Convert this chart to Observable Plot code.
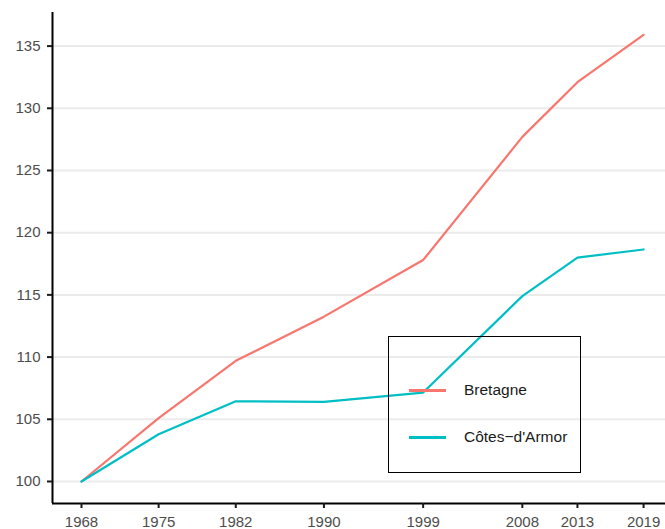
<!DOCTYPE html>
<html>
<head>
<meta charset="utf-8">
<script src="https://cdn.jsdelivr.net/npm/d3@7"></script>
<script src="https://cdn.jsdelivr.net/npm/@observablehq/plot@0.6"></script>
<style>
  html, body { margin: 0; padding: 0; background: #fff; }
  #wrap { position: relative; width: 665px; height: 529px; font-family: "Liberation Sans", Arial, sans-serif; }
  #legend { position: absolute; left: 388px; top: 336px; width: 191px; height: 135px; border: 1.5px solid #000; background: transparent; }
  .key { position: absolute; left: 20px; width: 37px; height: 2.5px; }
  .lab { position: absolute; left: 75px; font-size: 15.5px; line-height: 18px; color: #1a1a1a; white-space: nowrap; }
</style>
</head>
<body>
<div id="wrap"></div>
<script>
const years = [1968, 1975, 1982, 1990, 1999, 2008, 2013, 2019];
const seriesNames = ["Bretagne", "Côtes-d'Armor"];
const bretagne = [100, 105.1, 109.7, 113.25, 117.8, 127.7, 132.1, 135.9];
const cotesArmor = [100, 103.8, 106.45, 106.4, 107.15, 114.9, 118.0, 118.65];
const colors = ["#F8766D", "#00BFC4"];
const yTicks = [100, 105, 110, 115, 120, 125, 130, 135];

const data = [];
years.forEach((y, i) => {
  data.push({year: y, value: bretagne[i], serie: seriesNames[0]});
  data.push({year: y, value: cotesArmor[i], serie: seriesNames[1]});
});

const xDomain = [1965.37, 2020.99];
const yDomain = [98.23, 137.7];

const chart = Plot.plot({
  width: 665,
  height: 529,
  marginLeft: 52,
  marginRight: 0,
  marginTop: 12,
  marginBottom: 26,
  style: {fontFamily: "'Liberation Sans', Arial, sans-serif", background: "#fff"},
  x: {domain: xDomain},
  y: {domain: yDomain},
  color: {domain: seriesNames, range: colors},
  marks: [
    Plot.gridY(yTicks, {stroke: "#ebebeb", strokeOpacity: 1, strokeWidth: 2}),
    Plot.lineY(data, {x: "year", y: "value", stroke: "serie", strokeWidth: 2.2}),
    Plot.ruleX([xDomain[0]], {stroke: "#000", strokeWidth: 2}),
    Plot.ruleY([yDomain[0]], {stroke: "#000", strokeWidth: 2}),
    Plot.axisY(yTicks, {tickSize: 5, tickPadding: 7, fontSize: 15, stroke: "#1a1a1a", strokeWidth: 2, fill: "#4d4d4d", label: null}),
    Plot.axisX(years, {tickSize: 5, tickPadding: 8, fontSize: 15, stroke: "#1a1a1a", strokeWidth: 2, fill: "#4d4d4d", tickFormat: d => String(d), label: null})
  ]
});

const wrap = document.getElementById("wrap");
wrap.appendChild(chart);

const legend = document.createElement("div");
legend.id = "legend";
const tops = [43, 90];
seriesNames.forEach((name, i) => {
  const key = document.createElement("div");
  key.className = "key";
  key.style.top = (tops[i] + 9) + "px";
  key.style.background = colors[i];
  legend.appendChild(key);
  const lab = document.createElement("div");
  lab.className = "lab";
  lab.style.top = (tops[i] + 1) + "px";
  lab.textContent = name.replace("-", "\u2212");
  legend.appendChild(lab);
});
wrap.appendChild(legend);
</script>
</body>
</html>
